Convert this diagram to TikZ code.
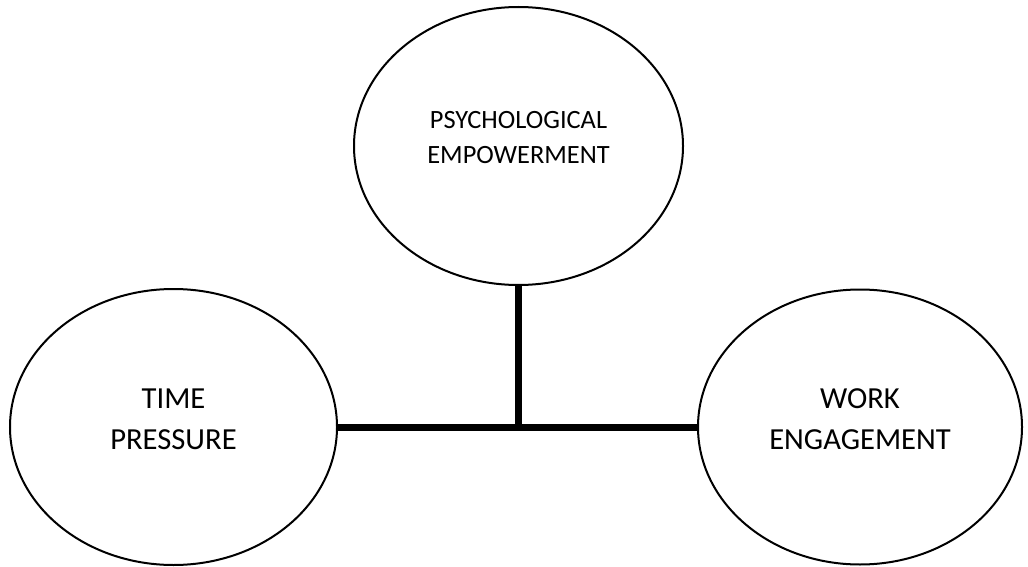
\documentclass[tikz,border=0pt]{standalone}
\usepackage{fontspec}
\setmainfont{Carlito}
\usetikzlibrary{shapes.geometric}

\begin{document}
\begin{tikzpicture}[x=0.5pt,y=-0.5pt,
  factor/.style 2 args={ellipse,draw,line width=1pt,inner sep=0pt,
    minimum width=#1pt,minimum height=#2pt},
  small/.style={align=center,font=\fontsize{13.2}{17.5}\selectfont},
  big/.style={align=center,font=\fontsize{15.3}{20.5}\selectfont},
  link/.style={line width=3.5pt}]
\useasboundingbox (0,0) rectangle (1028,567);
% the three factors
\node[factor={164.5}{139}] (pe) at (518.5,146) {};
\node[factor={163.5}{138}] (tp) at (173.5,427) {};
\node[factor={162}{137.5}] (we) at (860,427) {};
\node[small] (pe-text) at ([yshift=4pt]pe.center) {PSYCHOLOGICAL\\EMPOWERMENT};
\node[big] (tp-text) at ([yshift=4pt]tp.center) {TIME\\PRESSURE};
\node[big] (we-text) at ([yshift=4pt]we.center) {WORK\\ENGAGEMENT};
% connectors
\coordinate (mid) at (pe.south |- tp.east);
\draw[link] (tp.east) -- (we.west);
\draw[link] (pe.south) -- (mid);
\end{tikzpicture}
\end{document}
